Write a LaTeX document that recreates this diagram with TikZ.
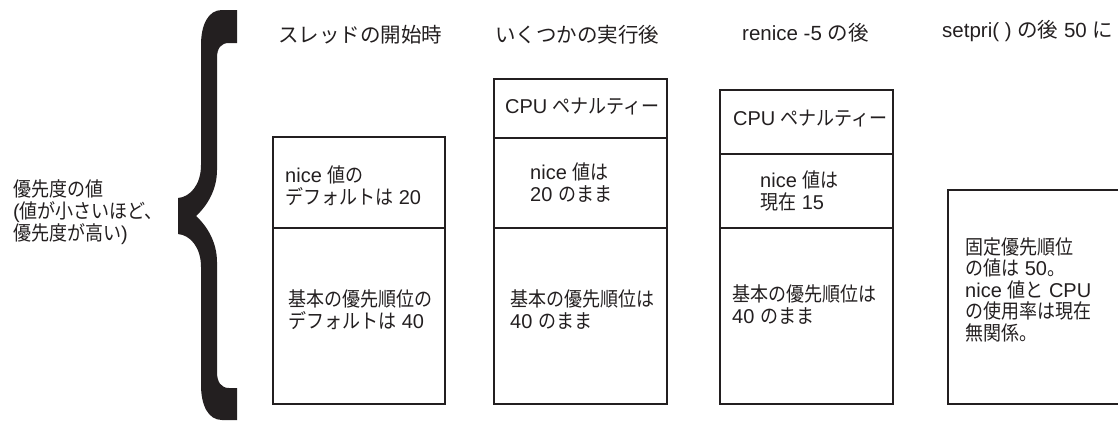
\documentclass[tikz,border=0pt]{standalone}
\usepackage{fontspec}
\setmainfont{Liberation Sans}
\newfontfamily\jp{Noto Sans CJK JP}[FakeStretch=0.9]
\newfontfamily\jpt{Noto Sans CJK JP}
\definecolor{ink}{HTML}{231F20}
\tikzset{
  txt/.style={anchor=north west, inner sep=0pt, align=left, text=ink,
    font=\fontsize{20}{22}\selectfont},
  ttl/.style={anchor=north west, inner sep=0pt, text=ink,
    font=\fontsize{20.5}{22}\selectfont},
  boxline/.style={draw=ink, line width=1.5pt},
}
\begin{document}
\begin{tikzpicture}[x=1pt,y=-1pt]
\useasboundingbox (0,0) rectangle (1118,421);
% brace
\fill[ink] (237,10) -- (222,10) .. controls (208,10) and (201,25) .. (201,45)
  -- (201,165) .. controls (201,185) and (190,197) .. (178,198)
  -- (178,234) .. controls (190,235) and (201,247) .. (201,267)
  -- (201,385) .. controls (201,405) and (208,420) .. (222,420)
  -- (237,420) -- (237,388) -- (229,388) .. controls (221,388) and (217,382) .. (217,372)
  -- (217,262) .. controls (217,242) and (207,226) .. (196,216)
  .. controls (207,206) and (217,190) .. (217,170)
  -- (217,58) .. controls (217,48) and (221,43) .. (229,43) -- (237,43) -- cycle;
% left label
\node[txt] (lbl) at (13,179) {{\jp 優先度の値}\\({\jp 値が小さいほど、}\\{\jp 優先度が高い})};
% titles
\node[ttl] (t1) at (278,25) {\jpt スレッドの開始時};
\node[ttl] (t2) at (495,25) {\jpt いくつかの実行後};
\node[ttl] (t3) at (742,23) {renice -5 {\jpt の後}};
\node[ttl] (t4) at (942,20) {setpri( ) {\jpt の後} 50 {\jpt に}};
% box 1
\draw[boxline] (273,137) rectangle (445,404);
\draw[boxline] (273,228) -- (445,228);
\node[txt] (b1a) at (285,165) {nice {\jp 値の}\\{\jp デフォルトは} 20};
\node[txt] (b1b) at (288,289) {{\jp 基本の優先順位の}\\{\jp デフォルトは} 40};
% box 2
\draw[boxline] (494,79) rectangle (667,404);
\draw[boxline] (494,138) -- (667,138);
\draw[boxline] (494,228) -- (667,228);
\node[txt] (b2a) at (505,98) {CPU {\jp ペナルティー}};
\node[txt] (b2b) at (530,162) {nice {\jp 値は}\\20 {\jp のまま}};
\node[txt] (b2c) at (510,289) {{\jp 基本の優先順位は}\\40 {\jp のまま}};
% box 3
\draw[boxline] (720,90) rectangle (893,404);
\draw[boxline] (720,154) -- (893,154);
\draw[boxline] (720,228) -- (893,228);
\node[txt] (b3a) at (733,110) {CPU {\jp ペナルティー}};
\node[txt] (b3b) at (760,170) {nice {\jp 値は}\\{\jp 現在} 15};
\node[txt] (b3c) at (732,284) {{\jp 基本の優先順位は}\\40 {\jp のまま}};
% box 4
\draw[boxline] (1118,190) -- (948,190) -- (948,404) -- (1118,404);
\node[txt, font=\fontsize{20}{21.5}\selectfont] (b4) at (965,237)
  {{\jp 固定優先順位}\\{\jp の値は} 50{\jp 。}\\nice {\jp 値と} CPU\\{\jp の使用率は現在}\\{\jp 無関係。}};
\end{tikzpicture}
\end{document}
